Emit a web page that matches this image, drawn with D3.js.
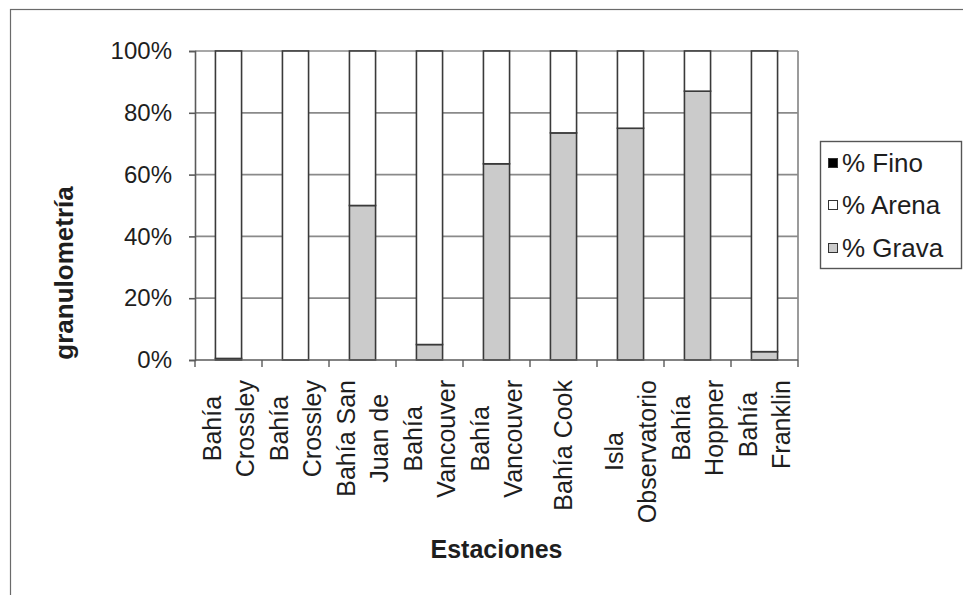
<!DOCTYPE html>
<html>
<head>
<meta charset="utf-8">
<script src="https://cdn.jsdelivr.net/npm/d3@7"></script>
<style>
  html, body { margin: 0; padding: 0; background: #fff; }
  svg text { font-family: "Liberation Sans", Arial, sans-serif; fill: #1e1e1e; }
</style>
</head>
<body>
<svg id="chart" width="963" height="595"></svg>
<script>
// Stations along the x axis, with the line breaks used in their labels
const categories = [
  "Bahía Crossley", "Bahía Crossley ", "Bahía San Juan de", "Bahía Vancouver",
  "Bahía Vancouver ", "Bahía Cook", "Isla Observatorio", "Bahía Hoppner", "Bahía Franklin"
];
const labelLines = [
  ["Bahía", "Crossley"], ["Bahía", "Crossley"], ["Bahía San", "Juan de"],
  ["Bahía", "Vancouver"], ["Bahía", "Vancouver"], ["Bahía Cook"],
  ["Isla", "Observatorio"], ["Bahía", "Hoppner"], ["Bahía", "Franklin"]
];

// Grain-size fractions (percent of sample)
const fino  = [0, 0, 0, 0, 0, 0, 0, 0, 0];
const arena = [99.5, 100, 50, 95, 36.5, 26.5, 25, 13, 97.3];
const grava = [0.5, 0, 50, 5, 63.5, 73.5, 75, 87, 2.7];

const seriesNames  = ["% Fino", "% Arena", "% Grava"];
const seriesColors = ["#000000", "#ffffff", "#cbcbcb"];
const yTicks = [0, 20, 40, 60, 80, 100];

const svg = d3.select("#chart");

// Chart frame
svg.append("rect")
  .attr("x", 10.5).attr("y", 9.5)
  .attr("width", 1000).attr("height", 1000)
  .attr("fill", "none").attr("stroke", "#6a6a6a").attr("stroke-width", 1.2);

const plot = { left: 195, right: 798, top: 51, bottom: 360 };

const x = d3.scaleBand()
  .domain(categories)
  .range([plot.left, plot.right])
  .paddingInner(0.61)
  .paddingOuter(0.305);

const y = d3.scaleLinear()
  .domain([0, 100])
  .range([plot.bottom, plot.top]);

// Horizontal gridlines
svg.append("g")
  .selectAll("line")
  .data(yTicks.filter(d => d > 0))
  .join("line")
  .attr("x1", plot.left).attr("x2", plot.right)
  .attr("y1", d => y(d)).attr("y2", d => y(d))
  .attr("stroke", "#8a8a8a").attr("stroke-width", 1.7);

// Right edge of the plot area
svg.append("line")
  .attr("x1", plot.right).attr("x2", plot.right)
  .attr("y1", plot.top).attr("y2", plot.bottom)
  .attr("stroke", "#8a8a8a").attr("stroke-width", 1.7);

// Stacked bars: gravel at the bottom, then sand, then fines
const rows = categories.map((c, i) => ({ cat: c, "% Grava": grava[i], "% Arena": arena[i], "% Fino": fino[i] }));
const stack = d3.stack().keys(["% Grava", "% Arena", "% Fino"]);
const layers = stack(rows);

svg.append("g")
  .selectAll("g")
  .data(layers)
  .join("g")
  .attr("fill", d => seriesColors[seriesNames.indexOf(d.key)])
  .selectAll("rect")
  .data(d => d.filter(s => s[1] - s[0] > 0))
  .join("rect")
  .attr("x", d => x(d.data.cat))
  .attr("width", x.bandwidth())
  .attr("y", d => y(d[1]))
  .attr("height", d => y(d[0]) - y(d[1]))
  .attr("stroke", "#3a3a3a").attr("stroke-width", 1.6);

// Y axis
const yAxis = svg.append("g")
  .attr("transform", `translate(${plot.left},0)`)
  .call(d3.axisLeft(y).tickValues(yTicks).tickSize(6).tickPadding(17).tickFormat(d => d + "%"));
yAxis.selectAll("path, line").attr("stroke", "#5a5a5a").attr("stroke-width", 1.6);
yAxis.selectAll("text").attr("font-size", 24).attr("fill", "#1e1e1e")
  .style("font-family", '"Liberation Sans", Arial, sans-serif');

// X axis line with tick marks between categories
svg.append("line")
  .attr("x1", plot.left).attr("x2", plot.right)
  .attr("y1", plot.bottom).attr("y2", plot.bottom)
  .attr("stroke", "#5a5a5a").attr("stroke-width", 1.6);
const boundaries = d3.range(categories.length + 1).map(i => plot.left + i * x.step());
svg.append("g")
  .selectAll("line")
  .data(boundaries)
  .join("line")
  .attr("x1", d => d).attr("x2", d => d)
  .attr("y1", plot.bottom).attr("y2", plot.bottom + 7)
  .attr("stroke", "#5a5a5a").attr("stroke-width", 1.4);

// Category labels, rotated and centred line by line
const lineGap = 33;
const labelTop = 380;
categories.forEach((c, i) => {
  const cx = x(c) + x.bandwidth() / 2;
  const lines = labelLines[i];
  const g = svg.append("g");
  const texts = lines.map((t, j) => g.append("text")
    .attr("font-size", 25)
    .attr("text-anchor", "middle")
    .attr("dy", "0.35em")
    .text(t));
  const maxLen = d3.max(texts, t => t.node().getComputedTextLength());
  const cy = labelTop + maxLen / 2;
  texts.forEach((t, j) => {
    const off = (j - (lines.length - 1) / 2) * lineGap;
    t.attr("transform", `translate(${cx + off},${cy}) rotate(-90)`);
  });
});

// Axis titles
svg.append("text")
  .attr("x", (plot.left + plot.right) / 2).attr("y", 558)
  .attr("text-anchor", "middle")
  .attr("font-size", 25).attr("font-weight", "bold")
  .text("Estaciones");

svg.append("text")
  .attr("transform", "translate(73,273) rotate(-90)")
  .attr("text-anchor", "middle")
  .attr("font-size", 26).attr("font-weight", "bold")
  .text("granulometría");

// Legend
const legend = svg.append("g");
legend.append("rect")
  .attr("x", 820.5).attr("y", 141.5)
  .attr("width", 141).attr("height", 127)
  .attr("fill", "#fff").attr("stroke", "#555").attr("stroke-width", 1.4);
const legendRows = [163, 205, 248];
seriesNames.forEach((name, i) => {
  legend.append("rect")
    .attr("x", 828.5).attr("y", legendRows[i] - 4.5)
    .attr("width", 9).attr("height", 9)
    .attr("fill", seriesColors[i]).attr("stroke", "#333").attr("stroke-width", 1);
  legend.append("text")
    .attr("x", 842).attr("y", legendRows[i])
    .attr("dy", "0.35em")
    .attr("font-size", 26)
    .text(name);
});
</script>
</body>
</html>
